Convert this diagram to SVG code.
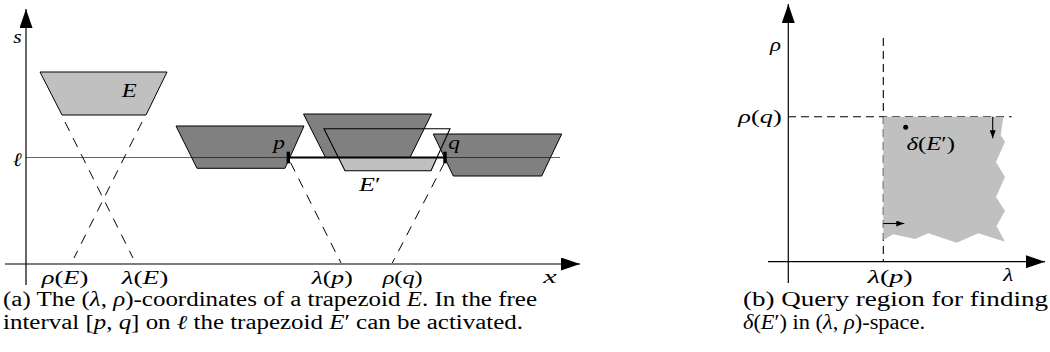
<svg xmlns="http://www.w3.org/2000/svg" width="1050" height="352" viewBox="0 0 1050 352">
<defs>
<style>
text{font-family:"Liberation Serif","Times New Roman",Times,serif;font-size:19px;fill:#000}
.cap{font-size:20px}
.i{font-style:italic}
.light{fill:#c0c0c0;stroke:#000;stroke-width:1}
.dark{fill:#808080;stroke:#000;stroke-width:1}
.outline{fill:none;stroke:#000;stroke-width:1.1}
.axis{stroke:#000;stroke-width:1.2;fill:none}
.dash{stroke:#000;stroke-width:1;stroke-dasharray:10,8;fill:none}
.dash2{stroke:#000;stroke-width:1.1;stroke-dasharray:8,5;fill:none}
.ell{stroke:#000;stroke-opacity:0.6;stroke-width:1.2}
</style>
<marker id="ax" markerUnits="userSpaceOnUse" markerWidth="19" markerHeight="13" refX="19" refY="6.5" orient="auto">
<path d="M0,0 L19,6.5 L0,13 z" fill="#000"/>
</marker>
<marker id="sm" markerUnits="userSpaceOnUse" markerWidth="8" markerHeight="6" refX="8" refY="3" orient="auto">
<path d="M0,0 L8,3 L0,6 z" fill="#000"/>
</marker>
</defs>

<!-- left panel: trapezoids -->
<g id="trapezoid-E">
<polygon class="light" points="40,72 167,72 146,115 62,115"/>
<text x="121.7" y="97" class="i" textLength="15" lengthAdjust="spacingAndGlyphs">E</text>
</g>
<g id="trapezoid-left">
<polygon class="dark" points="176,126 304,126 285,168.3 197,168.3"/>
</g>
<g id="trapezoid-mid">
<polygon class="dark" points="303.5,114 431.5,114 410,157.5 325.5,157.5"/>
</g>
<g id="trapezoid-right">
<polygon class="dark" points="433.3,134 561.7,134 541.7,176 453.3,176"/>
</g>
<g id="trapezoid-Eprime">
<polygon points="338.4,157.5 437,157.5 431,170.7 345,170.7" fill="#c0c0c0"/>
<polygon class="outline" points="324,128.7 450,128.7 431,170.7 345,170.7"/>
<text x="359" y="191" textLength="21.7" lengthAdjust="spacingAndGlyphs"><tspan class="i">E</tspan>′</text>
</g>

<g id="line-ell">
<line class="ell" x1="26" y1="157.5" x2="560" y2="157.5"/>
<text x="12.7" y="166" class="i" textLength="9" lengthAdjust="spacingAndGlyphs">ℓ</text>
</g>

<g id="interval-pq">
<line x1="288" y1="157.5" x2="445" y2="157.5" stroke="#000" stroke-width="2"/>
<rect x="286.6" y="151.7" width="3.4" height="11.6" fill="#000"/>
<rect x="443.3" y="151.7" width="3.4" height="11.6" fill="#000"/>
<text x="273.3" y="149" class="i" textLength="11.7" lengthAdjust="spacingAndGlyphs">p</text>
<text x="448.3" y="149" class="i" textLength="11.7" lengthAdjust="spacingAndGlyphs">q</text>
</g>

<g id="connectors">
<line class="dash" x1="65" y1="122" x2="133" y2="258"/>
<line class="dash" x1="142" y1="122" x2="74" y2="258"/>
<line class="dash" x1="290.5" y1="162.5" x2="341" y2="263"/>
<line class="dash" x1="444.5" y1="162.5" x2="392.3" y2="263"/>
<line class="dash2" x1="883.3" y1="38" x2="883.3" y2="261.7" stroke="#333"/>
<line class="dash2" x1="788" y1="116.7" x2="1011.7" y2="116.7"/>
</g>

<g id="axes-left">
<line class="axis" x1="26" y1="285" x2="26" y2="9" marker-end="url(#ax)"/>
<line class="axis" x1="5" y1="264" x2="580" y2="264" marker-end="url(#ax)"/>
<text x="13.3" y="43" class="i" textLength="8.4" lengthAdjust="spacingAndGlyphs">s</text>
<text x="543.3" y="283" class="i" textLength="13.4" lengthAdjust="spacingAndGlyphs">x</text>
<text x="41.7" y="284" textLength="46.6" lengthAdjust="spacingAndGlyphs"><tspan class="i">ρ</tspan>(<tspan class="i">E</tspan>)</text>
<text x="121.7" y="284" textLength="46.6" lengthAdjust="spacingAndGlyphs"><tspan class="i">λ</tspan>(<tspan class="i">E</tspan>)</text>
<text x="311.7" y="284" textLength="41" lengthAdjust="spacingAndGlyphs"><tspan class="i">λ</tspan>(<tspan class="i">p</tspan>)</text>
<text x="382.7" y="284" textLength="40" lengthAdjust="spacingAndGlyphs"><tspan class="i">ρ</tspan>(<tspan class="i">q</tspan>)</text>
</g>

<!-- right panel -->
<g id="query-region">
<polygon fill="#c0c0c0" points="883.3,116.7 1003.3,116.7 1000.7,135 1005,142 996,162 1005,177 996,197 1005,211 996.5,226 1005,241.7 978.3,233.3 956.7,242.7 928.3,233.3 915,239 893.3,234.3 883.3,240"/>
</g>
<g id="axes-right">
<line class="axis" x1="788.3" y1="283" x2="788.3" y2="4" marker-end="url(#ax)"/>
<line class="axis" x1="768" y1="261.7" x2="1045" y2="261.7" marker-end="url(#ax)"/>
<text x="770" y="51" class="i" textLength="11" lengthAdjust="spacingAndGlyphs">ρ</text>
<text x="1003.3" y="281" class="i" textLength="10" lengthAdjust="spacingAndGlyphs">λ</text>
<text x="738.3" y="123" textLength="43.4" lengthAdjust="spacingAndGlyphs"><tspan class="i">ρ</tspan>(<tspan class="i">q</tspan>)</text>
<text x="867.7" y="283" textLength="45" lengthAdjust="spacingAndGlyphs"><tspan class="i">λ</tspan>(<tspan class="i">p</tspan>)</text>
</g>
<g id="region-arrows">
<line x1="992.7" y1="116.7" x2="992.7" y2="138.3" stroke="#000" stroke-width="1.1" marker-end="url(#sm)"/>
<line x1="883.3" y1="223.5" x2="904.3" y2="223.5" stroke="#000" stroke-width="1.1" marker-end="url(#sm)"/>
</g>
<g id="point-delta">
<circle cx="905.7" cy="127.3" r="2.5" fill="#000"/>
<text x="906.5" y="149.5" textLength="48.5" lengthAdjust="spacingAndGlyphs"><tspan class="i">δ</tspan>(<tspan class="i">E</tspan>′)</text>
</g>

<g id="captions">
<text class="cap" x="3" y="306" textLength="534" lengthAdjust="spacingAndGlyphs">(a) The (<tspan class="i">λ</tspan>, <tspan class="i">ρ</tspan>)-coordinates of a trapezoid <tspan class="i">E</tspan>. In the free</text>
<text class="cap" x="3" y="329" textLength="520" lengthAdjust="spacingAndGlyphs">interval [<tspan class="i">p</tspan>, <tspan class="i">q</tspan>] on <tspan class="i">ℓ</tspan> the trapezoid <tspan class="i">E</tspan>′ can be activated.</text>
<text class="cap" x="743" y="306" textLength="305" lengthAdjust="spacingAndGlyphs">(b) Query region for finding</text>
<text class="cap" x="743" y="329" textLength="182" lengthAdjust="spacingAndGlyphs"><tspan class="i">δ</tspan>(<tspan class="i">E</tspan>′) in (<tspan class="i">λ</tspan>, <tspan class="i">ρ</tspan>)-space.</text>
</g>
</svg>
